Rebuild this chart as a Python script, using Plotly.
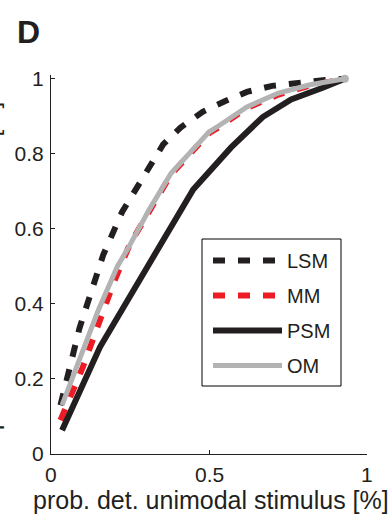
import plotly.graph_objects as go

# ---- data ----
lsm_x = [0.03, 0.07, 0.09, 0.115, 0.165, 0.225, 0.27, 0.31, 0.355, 0.41, 0.48, 0.55, 0.62, 0.70, 0.78, 0.86, 0.93]
lsm_y = [0.13, 0.27, 0.335, 0.40, 0.53, 0.645, 0.71, 0.765, 0.825, 0.87, 0.912, 0.94, 0.965, 0.981, 0.99, 0.996, 1.0]

mm_x = [0.03, 0.07, 0.10, 0.15, 0.20, 0.25, 0.31, 0.38, 0.44, 0.50, 0.53, 0.62, 0.72, 0.82, 0.93]
mm_y = [0.09, 0.165, 0.23, 0.345, 0.46, 0.56, 0.645, 0.745, 0.80, 0.855, 0.87, 0.922, 0.958, 0.982, 1.0]

psm_x = [0.035, 0.155, 0.45, 0.57, 0.67, 0.76, 0.86, 0.93]
psm_y = [0.063, 0.285, 0.705, 0.817, 0.898, 0.945, 0.976, 1.0]

om_x = [0.035, 0.10, 0.15, 0.21, 0.245, 0.31, 0.38, 0.44, 0.50, 0.53, 0.62, 0.72, 0.82, 0.93]
om_y = [0.13, 0.277, 0.384, 0.50, 0.55, 0.65, 0.748, 0.803, 0.858, 0.874, 0.925, 0.962, 0.984, 1.0]

x_ticks = [0, 0.5, 1]
x_ticklabels = ["0", "0.5", "1"]
y_ticks = [0, 0.2, 0.4, 0.6, 0.8, 1]
y_ticklabels = ["0", "0.2", "0.4", "0.6", "0.8", "1"]

FONT = "Liberation Sans, Arial, sans-serif"
INK = "#231f20"
BLACK = "#231f20"
RED = "#ed1c24"
GRAY = "#b3b3b3"

fig = go.Figure()
fig.add_trace(go.Scatter(x=lsm_x, y=lsm_y, mode="lines", name="LSM", legendgroup="a",
                         line=dict(color=BLACK, width=6, dash="12px,13px")))
fig.add_trace(go.Scatter(x=mm_x, y=mm_y, mode="lines", name="MM", legendgroup="b",
                         line=dict(color=RED, width=6, dash="12px,13px")))
fig.add_trace(go.Scatter(x=psm_x, y=psm_y, mode="lines", name="PSM", legendgroup="c",
                         line=dict(color=BLACK, width=6)))
fig.add_trace(go.Scatter(x=om_x, y=om_y, mode="lines", name="OM", legendgroup="d",
                         line=dict(color=GRAY, width=5)))
fig.add_trace(go.Scatter(x=[om_x[-1]], y=[om_y[-1]], mode="markers", showlegend=False,
                         marker=dict(color=GRAY, size=8), cliponaxis=False))

W, H = 392, 519
L, R, T, B = 51, 25, 75, 65
PW = W - L - R
PH = H - T - B


def px_x(p):
    return (p - L) / PW


def px_y(p):
    return (H - B - p) / PH


annotations = [
    dict(text="<b>D</b>", xref="paper", yref="paper", x=px_x(15), y=1,
         yshift=(T - 12), xanchor="left", yanchor="top", showarrow=False,
         font=dict(size=32, family=FONT, color=INK)),
    dict(text="prob. det. unimodal stimulus [%]", xref="paper", yref="paper",
         x=px_x(211), y=px_y(500), xanchor="center", yanchor="middle",
         showarrow=False, font=dict(size=25, family=FONT, color=INK)),
    dict(text="prob. det. bimodal stimulus [%]", xref="paper", yref="paper",
         x=px_x(-10), y=px_y(266), xanchor="center", yanchor="middle",
         textangle=-90, showarrow=False, font=dict(size=24, family=FONT, color=INK)),
]
# x tick labels placed at the tick values of the x axis
for v, t in zip(x_ticks, x_ticklabels):
    annotations.append(dict(text=t, x=v, xref="x", y=px_y(474), yref="paper",
                            xanchor="center", yanchor="middle", showarrow=False,
                            font=dict(size=21, family=FONT, color=INK)))

fig.update_layout(
    width=W, height=H,
    margin=dict(l=L, r=R, t=T, b=B, autoexpand=False),
    paper_bgcolor="white", plot_bgcolor="white",
    font=dict(family=FONT, size=21, color=INK),
    showlegend=True,
    legend=dict(x=px_x(208), y=px_y(241),
                xanchor="left", yanchor="top",
                borderwidth=0, bgcolor="rgba(0,0,0,0)",
                itemwidth=69, tracegroupgap=6,
                font=dict(family=FONT, size=20, color=INK)),
    xaxis=dict(range=[0, 1], tickvals=x_ticks, showticklabels=False, automargin=False,
               showgrid=False, zeroline=False, showline=True, linecolor=INK, linewidth=1,
               ticks="inside", ticklen=4, tickwidth=1, tickcolor=INK, fixedrange=True),
    yaxis=dict(range=[0, 1.01], tickvals=y_ticks, ticktext=y_ticklabels, automargin=False,
               showgrid=False, zeroline=False, showline=True, linecolor=INK, linewidth=1,
               ticks="inside", ticklen=4, tickwidth=1, tickcolor=INK, ticklabelstandoff=2,
               tickfont=dict(size=21), fixedrange=True),
    shapes=[
        dict(type="rect", xref="paper", yref="paper",
             x0=px_x(202), x1=px_x(341), y0=px_y(386), y1=px_y(239),
             line=dict(color="black", width=1), fillcolor="white", layer="above"),
    ],
    annotations=annotations,
)

fig.write_html("out.html", config={"displayModeBar": False},
               post_script="document.body.style.margin='0';document.body.style.overflow='hidden';")
